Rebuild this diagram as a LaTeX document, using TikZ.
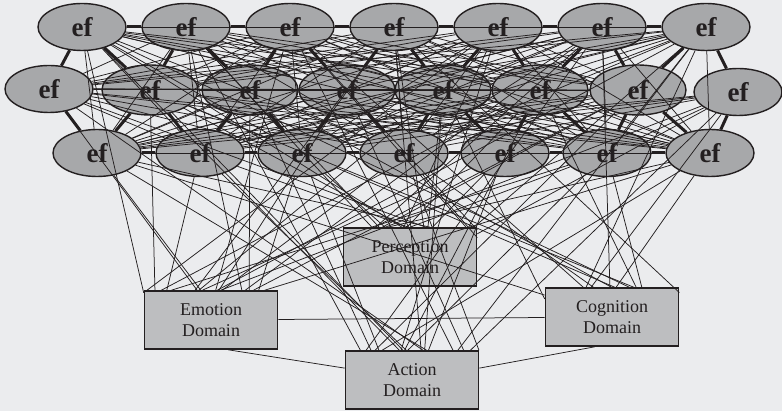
\documentclass[tikz,border=0pt]{standalone}
\usepackage{fontspec}
\setmainfont{Liberation Serif}
\usetikzlibrary{shapes.geometric}
\definecolor{bg}{HTML}{EBECEE}
\definecolor{efill}{HTML}{A7A8AA}
\definecolor{dfill}{HTML}{BDBEC0}
\definecolor{ink}{HTML}{231F20}
\begin{document}
\begin{tikzpicture}[x=1pt,y=-1pt,
  ef/.style={ellipse,draw=ink,line width=1.4pt,fill=efill,minimum width=88pt,minimum height=47pt,inner sep=0pt,font=\fontsize{27}{27}\selectfont\bfseries,text=ink},
  efwide/.style={ef,minimum width=96pt,minimum height=50pt},
  dom/.style={rectangle,draw=ink,line width=1.6pt,fill=dfill,minimum width=133pt,minimum height=58pt,align=center,font=\fontsize{18}{21}\selectfont,text=ink},
  wire/.style={draw=ink,line width=0.75pt},
  bond/.style={draw=ink,line width=3pt}]
\fill[bg] (0,0) rectangle (782,411);
\useasboundingbox (0,0) rectangle (782,411);
% top row
\foreach \x [count=\i] in {82,186,290,394,498,602,706}
  \node[ef] (e\i) at (\x,27) {ef};
% middle row
\node[ef] (e8) at (49,89) {ef};
\foreach \x [count=\i from 9] in {150,250,347,443,540,638}
  \node[efwide] (e\i) at (\x,90) {ef};
\node[ef] (e15) at (738,92) {ef};
% bottom row
\foreach \x [count=\i from 16] in {97,200,302,404,505,607,710}
  \node[ef] (e\i) at (\x,153) {ef};
% domains
\node[dom] (P) at (410,257) {Perception\\Domain};
\node[dom] (E) at (211,320) {Emotion\\Domain};
\node[dom] (C) at (612,317) {Cognition\\Domain};
\node[dom] (A) at (412,380) {Action\\Domain};
% thin ellipse-ellipse links
\foreach \i in {1,...,21}{
  \pgfmathtruncatemacro\s{\i+1}
  \foreach \j in {\s,...,22}{
    \pgfmathtruncatemacro\k{mod(\i*5+\j*3,5)}
    \ifnum\k>0 \draw[wire] (e\i) -- (e\j);\fi
  }
}
% ellipse-domain links, ending at spread points on the boxes
\foreach \i in {1,...,22}{
  \foreach \d [count=\n] in {P,E,C,A}{
    \pgfmathtruncatemacro\ang{15+mod(\i*37+\n*53,151)}
    \pgfmathtruncatemacro\k{mod(\i*3+\n*7,9)}
    \ifnum\k>0 \draw[wire] (e\i) -- (\d.\ang);\fi
  }
}
% domain-domain links
\draw[wire] (E) -- (C);
\draw[wire] (E.-60) -- (A.170);
\draw[wire] (C.-120) -- (A.10);
% thick links
\foreach \i in {1,...,6}{
  \pgfmathtruncatemacro\n{\i+1}
  \draw[bond] (e\i) -- (e\n);
}
\foreach \i in {16,...,21}{
  \pgfmathtruncatemacro\n{\i+1}
  \draw[bond] (e\i) -- (e\n);
}
\foreach \i in {1,...,7}{
  \pgfmathtruncatemacro\a{\i+7}
  \pgfmathtruncatemacro\b{\i+8}
  \draw[bond] (e\i) -- (e\a);
  \draw[bond] (e\i) -- (e\b);
}
\foreach \i in {16,...,22}{
  \pgfmathtruncatemacro\a{\i-8}
  \pgfmathtruncatemacro\b{\i-7}
  \draw[bond] (e\i) -- (e\a);
  \draw[bond] (e\i) -- (e\b);
}
\end{tikzpicture}
\end{document}
